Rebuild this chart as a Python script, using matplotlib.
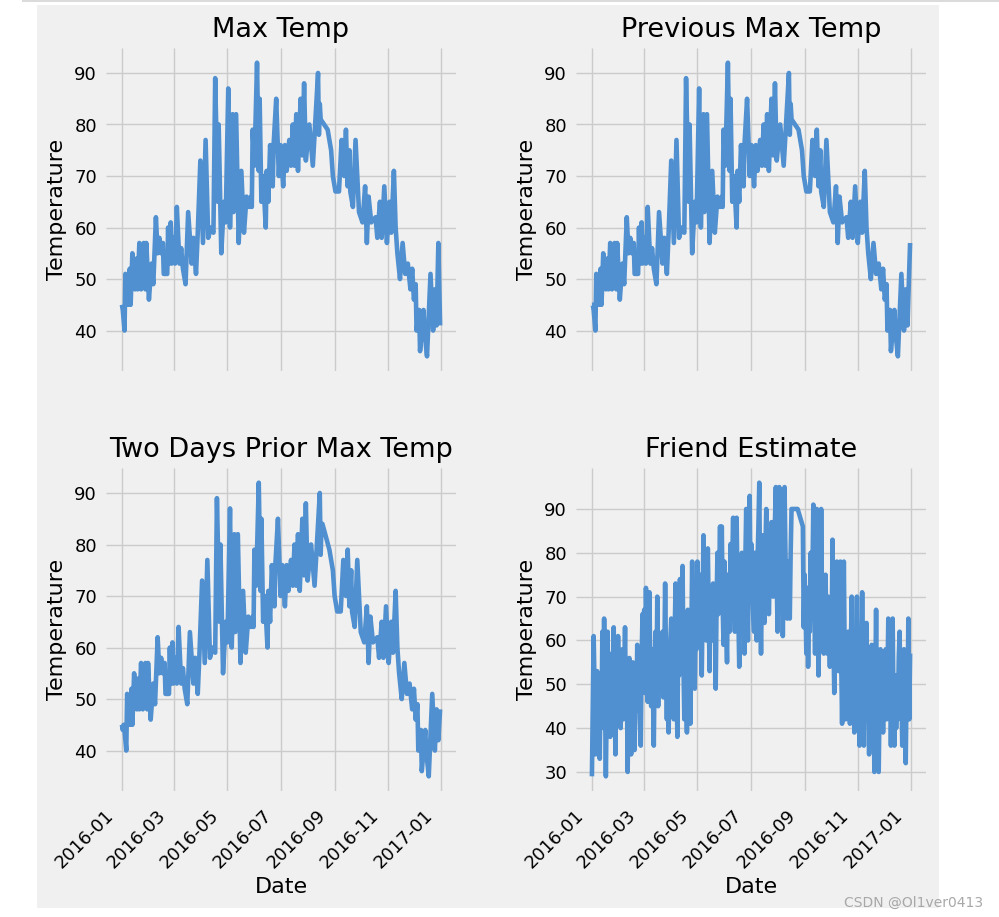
import matplotlib
matplotlib.use('Agg')
import matplotlib.pyplot as plt
import matplotlib.dates as mdates
import matplotlib.transforms as mtrans
import pandas as pd
from matplotlib.patches import Rectangle
from matplotlib.lines import Line2D

plt.style.use('fivethirtyeight')
plt.rcParams['font.family'] = ['DejaVu Sans']

YEAR_START = '2016-01-01'

# ---- data: (day offset from 2016-01-01, temperature) ----
actual_days = [0, 1, 3, 4, 7, 9, 10, 12, 15, 17, 18, 20, 22, 25, 27, 28, 31, 34, 36, 39,
               41, 43, 45, 47, 48, 52, 53, 54, 56, 57, 59, 61, 63, 66, 68, 70, 73, 76, 80, 82,
               85, 87, 90, 93, 96, 99, 102, 105, 107, 110, 111, 114, 117, 119, 122, 124, 127, 128, 131, 134,
               137, 140, 143, 146, 148, 149, 150, 152, 155, 157, 158, 160, 162, 165, 166, 168, 170, 173, 174, 177,
               180, 182, 185, 187, 189, 192, 194, 196, 198, 200, 202, 205, 207, 209, 211, 215, 219, 225, 226, 227,
               228, 236, 240, 242, 245, 249, 252, 255, 257, 259, 261, 262, 265, 268, 272, 276, 279, 281, 283, 286,
               291, 293, 296, 298, 301, 304, 307, 309, 312, 314, 316, 319, 322, 325, 328, 331, 333, 335, 337, 338,
               341, 342, 346, 347, 350, 354, 357, 359, 361, 363, 365]
actual_vals = [45, 44, 40, 51, 45, 52, 45, 55, 48, 54, 48, 57, 48, 57, 48, 57, 46, 53, 49, 62,
               55, 58, 55, 57, 51, 51, 60, 53, 61, 53, 58, 53, 64, 53, 56, 52, 49, 63, 53, 58,
               51, 59, 73, 57, 77, 58, 60, 59, 89, 65, 80, 55, 65, 61, 87, 60, 82, 63, 82, 57,
               71, 59, 66, 64, 66, 64, 79, 72, 92, 71, 85, 65, 70, 60, 71, 65, 76, 68, 76, 85,
               70, 76, 68, 76, 71, 77, 72, 80, 72, 82, 71, 85, 74, 88, 73, 80, 72, 90, 78, 84,
               81, 79, 75, 70, 67, 67, 77, 70, 79, 68, 75, 67, 64, 77, 63, 61, 68, 57, 66, 61,
               62, 58, 65, 58, 68, 57, 65, 59, 71, 60, 55, 50, 57, 51, 53, 48, 52, 46, 49, 40,
               44, 36, 44, 40, 35, 51, 40, 48, 41, 57, 41]

prev_days = [0, 1, 2, 4, 5, 8, 10, 11, 13, 16, 18, 19, 21, 23, 26, 28, 29, 32, 35, 37,
             40, 42, 44, 46, 48, 49, 53, 54, 55, 57, 58, 60, 62, 64, 67, 69, 71, 74, 77, 81,
             83, 86, 88, 91, 94, 97, 100, 103, 106, 108, 111, 112, 115, 118, 120, 123, 125, 128, 129, 132,
             135, 138, 141, 144, 147, 149, 150, 151, 153, 156, 158, 159, 161, 163, 166, 167, 169, 171, 174, 175,
             178, 181, 183, 186, 188, 190, 193, 195, 197, 199, 201, 203, 206, 208, 210, 212, 216, 220, 226, 227,
             228, 229, 237, 241, 243, 246, 250, 253, 256, 258, 260, 262, 263, 266, 269, 273, 277, 280, 282, 284,
             287, 292, 294, 297, 299, 302, 305, 308, 310, 313, 315, 317, 320, 323, 326, 329, 332, 334, 336, 338,
             339, 342, 343, 347, 348, 351, 355, 358, 360, 362, 365]
prev_vals = [45, 45, 44, 40, 51, 45, 52, 45, 55, 48, 54, 48, 57, 48, 57, 48, 57, 46, 53, 49,
             62, 55, 58, 55, 57, 51, 51, 60, 53, 61, 53, 58, 53, 64, 53, 56, 52, 49, 63, 53,
             58, 51, 59, 73, 57, 77, 58, 60, 59, 89, 65, 80, 55, 65, 61, 87, 60, 82, 63, 82,
             57, 71, 59, 66, 64, 66, 64, 79, 72, 92, 71, 85, 65, 70, 60, 71, 65, 76, 68, 76,
             85, 70, 76, 68, 76, 71, 77, 72, 80, 72, 82, 71, 85, 74, 88, 73, 80, 72, 90, 78,
             84, 81, 79, 75, 70, 67, 67, 77, 70, 79, 68, 75, 67, 64, 77, 63, 61, 68, 57, 66,
             61, 62, 58, 65, 58, 68, 57, 65, 59, 71, 60, 55, 50, 57, 51, 53, 48, 52, 46, 49,
             40, 44, 36, 44, 40, 35, 51, 40, 48, 41, 57]

two_days = [0, 1, 2, 3, 5, 6, 9, 11, 12, 14, 17, 19, 20, 22, 24, 27, 29, 30, 33, 36,
            38, 41, 43, 45, 47, 49, 50, 54, 55, 56, 58, 59, 61, 63, 65, 68, 70, 72, 75, 78,
            82, 84, 87, 89, 92, 95, 98, 101, 104, 107, 109, 112, 113, 116, 119, 121, 124, 126, 129, 130,
            133, 136, 139, 142, 145, 148, 150, 151, 152, 154, 157, 159, 160, 162, 164, 167, 168, 170, 172, 175,
            176, 179, 182, 184, 187, 189, 191, 194, 196, 198, 200, 202, 204, 207, 209, 211, 213, 217, 221, 227,
            228, 229, 230, 238, 242, 244, 247, 251, 254, 257, 259, 261, 263, 264, 267, 270, 274, 278, 281, 283,
            285, 288, 293, 295, 298, 300, 303, 306, 309, 311, 314, 316, 318, 321, 324, 327, 330, 333, 335, 337,
            339, 340, 343, 344, 348, 349, 352, 356, 359, 361, 363, 365]
two_vals = [45, 44, 45, 44, 40, 51, 45, 52, 45, 55, 48, 54, 48, 57, 48, 57, 48, 57, 46, 53,
            49, 62, 55, 58, 55, 57, 51, 51, 60, 53, 61, 53, 58, 53, 64, 53, 56, 52, 49, 63,
            53, 58, 51, 59, 73, 57, 77, 58, 60, 59, 89, 65, 80, 55, 65, 61, 87, 60, 82, 63,
            82, 57, 71, 59, 66, 64, 66, 64, 79, 72, 92, 71, 85, 65, 70, 60, 71, 65, 76, 68,
            76, 85, 70, 76, 68, 76, 71, 77, 72, 80, 72, 82, 71, 85, 74, 88, 73, 80, 72, 90,
            78, 84, 84, 79, 75, 70, 67, 67, 77, 70, 79, 68, 75, 67, 64, 77, 63, 61, 68, 57,
            66, 61, 62, 58, 65, 58, 68, 57, 65, 59, 71, 60, 55, 50, 57, 51, 53, 48, 52, 46,
            49, 40, 44, 36, 44, 40, 35, 51, 40, 48, 42, 48]

friend_days = list(range(0, 230)) + [236, 242] + list(range(243, 366))
friend_vals = [
    29, 45, 61, 50, 34, 46, 53, 38, 50, 33, 52, 40, 62, 44, 65, 48, 29, 45, 62, 46,
    57, 38, 50, 55, 40, 63, 48, 34, 52, 44, 61, 46, 56, 40, 52, 58, 42, 50, 63, 45,
    52, 30, 46, 56, 42, 34, 50, 55, 41, 35, 53, 44, 59, 47, 56, 42, 36, 55, 66, 50,
    67, 48, 72, 58, 46, 60, 71, 52, 45, 58, 48, 36, 55, 62, 48, 70, 45, 60, 55, 50,
    58, 62, 47, 55, 73, 56, 42, 58, 39, 52, 60, 65, 50, 58, 42, 62, 73, 55, 38, 60,
    52, 74, 58, 64, 77, 55, 42, 60, 52, 39, 67, 55, 62, 41, 60, 78, 62, 70, 49, 65,
    58, 78, 60, 70, 64, 75, 52, 68, 84, 70, 65, 60, 74, 81, 66, 53, 72, 66, 60, 73,
    62, 70, 49, 68, 80, 66, 75, 86, 70, 86, 68, 59, 78, 72, 64, 55, 75, 70, 62, 82,
    72, 78, 88, 70, 62, 76, 88, 72, 66, 54, 70, 76, 80, 62, 72, 57, 78, 90, 72, 60,
    78, 93, 70, 82, 75, 66, 62, 80, 72, 60, 78, 86, 96, 70, 57, 72, 84, 75, 64, 80,
    90, 72, 78, 66, 75, 82, 87, 72, 70, 80, 88, 95, 74, 62, 80, 95, 78, 68, 82, 61,
    78, 95, 80, 72, 65, 78, 70, 65, 80, 90,
    90, 86,
    63, 75, 68, 57, 72, 54, 66, 62, 80, 68, 75, 91, 70, 57, 74, 90, 66, 52, 70, 62,
    90, 68, 74, 57, 66, 75, 62, 57, 70, 64, 54, 68, 60, 83, 62, 48, 65, 58, 78, 60,
    53, 66, 78, 55, 41, 60, 78, 56, 42, 58, 50, 62, 52, 41, 58, 70, 50, 60, 39, 56,
    48, 70, 52, 44, 36, 55, 48, 71, 50, 36, 52, 46, 64, 44, 54, 34, 50, 42, 59, 45,
    52, 30, 48, 67, 44, 55, 30, 46, 58, 42, 50, 39, 52, 44, 58, 42, 50, 65, 44, 52,
    36, 50, 65, 44, 36, 52, 40, 50, 42, 56, 62, 44, 50, 36, 48, 58, 42, 32, 50, 44,
    65, 42, 57]

panels = [
    ('Max Temp', actual_days, actual_vals),
    ('Previous Max Temp', prev_days, prev_vals),
    ('Two Days Prior Max Temp', two_days, two_vals),
    ('Friend Estimate', friend_days, friend_vals),
]

LINE_COLOR = '#5090d0'
BG = '#f0f0f0'


def to_dates(days):
    return pd.Timestamp(YEAR_START) + pd.to_timedelta(days, unit='D')


fig = plt.figure(figsize=(9.99, 9.17), dpi=100, facecolor='white')
fig.add_artist(Rectangle((0.037, 0.0098), 0.903, 0.9847, transform=fig.transFigure,
                         facecolor=BG, edgecolor='none', zorder=0))
fig.add_artist(Line2D([0.022, 1.0], [0.9992, 0.9992], transform=fig.transFigure,
                      color='#d4d4d4', lw=1.2))

W, H = 999, 917
boxes = [(106, 48), (576, 48), (106, 468), (576, 468)]
aw, ah = 350, 323
shift = mtrans.ScaledTranslation(-0.05, 0, fig.dpi_scale_trans)

for i, ((title, days, vals), (px, py)) in enumerate(zip(panels, boxes)):
    ax = fig.add_axes([px / W, 1 - (py + ah) / H, aw / W, ah / H])
    ax.set_facecolor(BG)
    for s in ax.spines.values():
        s.set_visible(False)
    ax.plot(to_dates(days), vals, color=LINE_COLOR, lw=3.3)
    ax.set_title(title, fontsize=19.5, pad=8)
    ax.set_ylabel('Temperature', fontsize=16, labelpad=5)
    ax.grid(True, color='#cbcbcb', lw=1.0)
    ax.xaxis.set_major_locator(mdates.MonthLocator(bymonth=[1, 3, 5, 7, 9, 11]))
    ax.xaxis.set_major_formatter(mdates.DateFormatter('%Y-%m'))
    ax.tick_params(axis='both', labelsize=13, length=0, pad=6.5, colors='black')
    if i < 2:
        ax.tick_params(axis='x', labelbottom=False)
    else:
        ax.tick_params(axis='x', pad=11)
        for lab in ax.get_xticklabels():
            lab.set_rotation(45)
            lab.set_ha('right')
            lab.set_transform(lab.get_transform() + shift)
        ax.set_xlabel('Date', fontsize=16, labelpad=4)

fig.text(983 / W, 1 - 903 / H, 'CSDN @Ol1ver0413', ha='right', va='center',
         fontsize=10, color='#a8a8a8')

fig.savefig('out.png', dpi=100, facecolor='white')
